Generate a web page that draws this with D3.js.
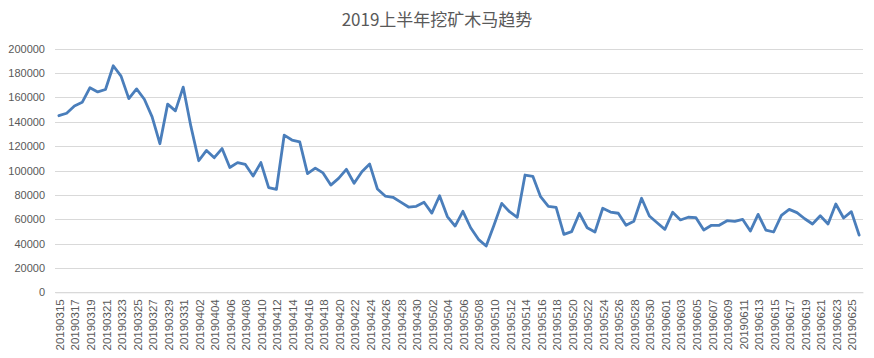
<!DOCTYPE html>
<html><head><meta charset="utf-8">
<script src="https://cdn.jsdelivr.net/npm/d3@7"></script>
<style>
body{margin:0;background:#fff;}
svg{display:block;font-family:"Liberation Sans","DejaVu Sans",sans-serif;}
</style></head>
<body><svg id="c" width="874" height="358"></svg>
<script>
const title = "2019上半年挖矿木马趋势";
const startDate = "20190315";
const dayCount = 104;
const values = [
145000,147000,153000,156000,168000,164500,166500,186000,177500,159000,
167000,158500,144000,122000,154500,149000,168500,136000,108000,116500,
110500,118000,102500,106500,105000,95500,106500,86000,84500,129000,
125000,123500,97500,102000,98000,88000,93500,101000,89500,99000,
105300,84800,79000,78000,74000,70000,70600,73900,65000,79300,
62200,54400,66500,53000,43500,38000,55000,73000,66200,61600,
96300,95200,78500,70600,69800,47600,49800,64900,53000,49500,
69000,65900,64900,55000,58300,77200,62600,57100,51700,65700,
59400,61600,61300,51100,55000,55000,58800,58300,59900,50300,
64000,51100,49500,63200,68100,65400,60400,56100,62900,56100,
72500,61000,66200,47000
];
const yTicks = [0,20000,40000,60000,80000,100000,120000,140000,160000,180000,200000];

// categories: consecutive dates
const parse = d3.timeParse("%Y%m%d"), fmt = d3.timeFormat("%Y%m%d");
const start = parse(startDate);
const categories = d3.range(dayCount).map(i => fmt(d3.timeDay.offset(start, i)));

const svg = d3.select("#c");
const L = 55, R = 863, T = 48.7, B = 292.3;
const x = d3.scaleBand().domain(categories).range([L, R]);
const y = d3.scaleLinear().domain([0, 200000]).range([B, T]);

// gridlines
svg.append("g").selectAll("line").data(yTicks).join("line")
  .attr("x1", L).attr("x2", R)
  .attr("y1", d => Math.round(y(d)) + 0.5).attr("y2", d => Math.round(y(d)) + 0.5)
  .attr("stroke", "#d9d9d9").attr("stroke-width", 1);

// y axis labels
const yAxis = d3.axisLeft(y).tickValues(yTicks).tickSize(0).tickPadding(10).tickFormat(d => d);
const gy = svg.append("g").attr("transform", `translate(${L},0)`).call(yAxis);
gy.select(".domain").remove();
gy.selectAll("text").attr("fill", "#595959").style("font-size", "11px");

// x axis
const xAxis = d3.axisBottom(x).tickValues(categories.filter((d, i) => i % 2 === 0)).tickSize(0).tickPadding(0);
const gx = svg.append("g").attr("transform", `translate(0,${B})`).call(xAxis);
gx.select(".domain").attr("stroke", "#d9d9d9");
gx.selectAll("text").attr("fill", "#595959").style("font-size", "11.5px")
  .attr("transform", "rotate(-90)").attr("text-anchor", "end")
  .attr("x", -7).attr("y", 1).attr("dy", "0.35em");

// line
const line = d3.line().x((d, i) => x(categories[i]) + x.bandwidth() / 2).y(d => y(d));
svg.append("path").datum(values).attr("d", line)
  .attr("fill", "none").attr("stroke", "#4a7ebb").attr("stroke-width", 2.8)
  .attr("stroke-linejoin", "round").attr("stroke-linecap", "round");

// title
svg.append("text").attr("x", 437).attr("y", 26).attr("text-anchor", "middle")
  .attr("fill", "#595959").style("font-size", "17px")
  .style("font-family", '"Noto Sans CJK SC","Liberation Sans",sans-serif')
  .text(title);
</script></body></html>
